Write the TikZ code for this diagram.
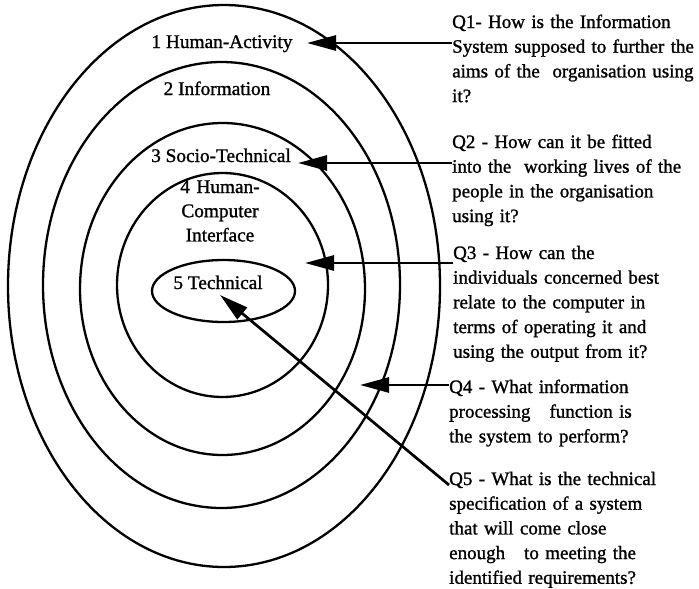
\documentclass[tikz,border=0pt]{standalone}
\usepackage{fontspec}
\setmainfont{Liberation Serif}[RawFeature={embolden=1.2}]
\usetikzlibrary{arrows.meta}
\begin{document}
\begin{tikzpicture}[x=1pt,y=-1pt,
  ring/.style={line width=2.3pt},
  layer/.style={inner sep=0pt,anchor=base,font=\fontsize{19.3}{24.2}\selectfont,align=center},
  question/.style={inner sep=0pt,anchor=base west,text width=250pt,align=left,
    font=\fontsize{19}{24.7}\selectfont},
  pointer/.style={line width=2.7pt,-{Triangle[length=29pt,width=15pt]}}]
\useasboundingbox (0,0) rectangle (699,589);

% concentric layers
\draw[ring] (224,286) ellipse [x radius=216, y radius=281];
\draw[ring] (221.5,285) ellipse [x radius=178.5, y radius=223];
\draw[ring] (222.5,289) ellipse [x radius=142.5, y radius=166];
\draw[ring] (222.5,285) ellipse [x radius=105.5, y radius=112];
\draw[ring] (223.5,291) ellipse [x radius=71.5, y radius=31];

% layer names
\node[layer] (l1) at (222,48) {1 Human-Activity};
\node[layer] (l2) at (217,95) {2 Information};
\node[layer] (l3) at (221,162) {3 Socio-Technical};
\node[layer,text width=110pt] (l4) at (220,193) {4 Human-\\Computer\\Interface};
\node[layer] (l5) at (218,289) {5 Technical};

% questions
\node[question] (q1) at (452,28) {Q1- How is the Information\\System supposed to further the\\aims of the\ \ organisation using\\it?};
\node[question] (q2) at (452,148) {Q2 - How can it be fitted\\into the\ \ working lives of the\\people in the organisation\\using it?};
\node[question] (q3) at (453,259) {Q3 - How can the\\individuals concerned best\\relate to the computer in\\terms of operating it and\\using the output from it?};
\node[question] (q4) at (449,393) {Q4 - What information\\processing\ \ \ function is\\the system to perform?};
\node[question] (q5) at (449,485) {Q5 - What is the technical\\specification of a system\\that will come close\\enough\ \ \ to meeting the\\identified requirements?};

% arrow tips
\coordinate (t1) at (307,43);
\coordinate (t2) at (298,163);
\coordinate (t3) at (305,263);
\coordinate (t4) at (360,385);
\coordinate (t5) at (220,295);

\draw[pointer] (q1.west |- t1) -- (t1);
\draw[pointer] (q2.west |- t2) -- (t2);
\draw[pointer] (q3.west |- t3) -- (t3);
\draw[pointer] (q4.west |- t4) -- (t4);
\draw[pointer] (q5.base west) -- (t5);
\end{tikzpicture}
\end{document}
